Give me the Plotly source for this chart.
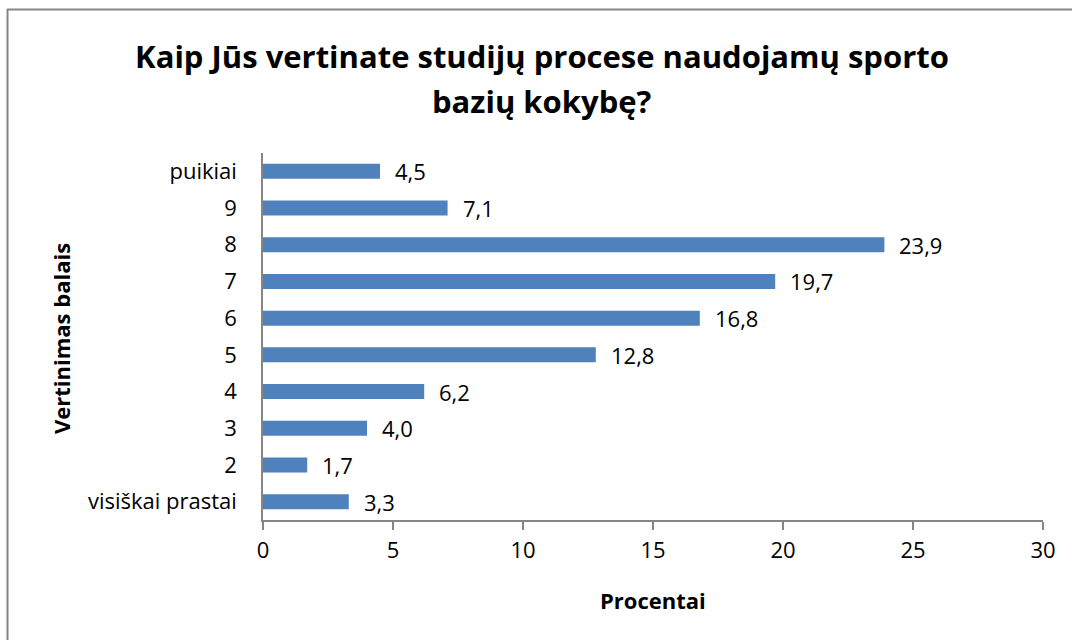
import plotly.graph_objects as go

categories = ["visiškai prastai", "2", "3", "4", "5", "6", "7", "8", "9", "puikiai"]
values = [3.3, 1.7, 4.0, 6.2, 12.8, 16.8, 19.7, 23.9, 7.1, 4.5]
x_ticks = [0, 5, 10, 15, 20, 25, 30]

title_line1 = "Kaip Jūs vertinate studijų procese naudojamų sporto"
title_line2 = "bazių kokybę?"
x_title = "Procentai"
y_title = "Vertinimas balais"

FONT = "Open Sans"
W, H = 1072, 640
ML, MR, MT, MB = 263, 29, 153, 120
TICK_SIZE = 22
TITLE_SIZE = 31

pw = W - ML - MR
ph = H - MT - MB
def px_x(x):
    return (x - ML) / pw
def px_y(y):
    return (H - MB - y) / ph

fig = go.Figure()
fig.add_trace(go.Bar(
    y=categories, x=values, orientation="h",
    marker=dict(color="#4F81BD", line=dict(width=0)),
    width=0.41, hoverinfo="x+y",
))

for i, v in enumerate(values):
    fig.add_annotation(
        x=v, y=i, xref="x", yref="y",
        text=f"{v:.1f}".replace(".", ","),
        showarrow=False, xanchor="left", yanchor="middle", xshift=13,
        font=dict(family=FONT, size=TICK_SIZE, color="#000000"),
    )

fig.update_layout(
    width=W, height=H,
    margin=dict(l=ML, r=MR, t=MT, b=MB, autoexpand=False),
    paper_bgcolor="white", plot_bgcolor="white",
    showlegend=False,
    bargap=0.59,
    title=dict(
        text=title_line1, x=542 / W, xanchor="center", y=1 - 57 / H, yanchor="middle",
        font=dict(family=FONT, size=TITLE_SIZE, color="#000000", weight="bold"),
    ),
    font=dict(family=FONT, size=TICK_SIZE, color="#000000"),
)
fig.add_annotation(
    text=title_line2, xref="paper", yref="paper",
    x=px_x(542), y=px_y(101), showarrow=False, xanchor="center", yanchor="middle",
    font=dict(family=FONT, size=TITLE_SIZE, color="#000000", weight="bold"),
)

fig.update_xaxes(
    range=[0, 30], tickvals=x_ticks, ticktext=[str(t) for t in x_ticks],
    showgrid=False, zeroline=False,
    showline=True, linecolor="#868686", linewidth=1.5,
    ticks="outside", ticklen=8, tickcolor="#868686", tickwidth=1.5,
    tickfont=dict(family=FONT, size=TICK_SIZE, color="#000000"),
    ticklabelstandoff=2,
)
fig.update_yaxes(
    categoryorder="array", categoryarray=categories,
    range=[-0.5, 9.5],
    showgrid=False, zeroline=False,
    showline=True, linecolor="#868686", linewidth=1.5,
    ticks="", tickfont=dict(family=FONT, size=TICK_SIZE, color="#000000"),
    ticklabelstandoff=20,
)

fig.add_annotation(
    text=x_title, xref="paper", yref="paper",
    x=px_x(653), y=px_y(600),
    showarrow=False, xanchor="center", yanchor="middle",
    font=dict(family=FONT, size=22, color="#000000", weight="bold"),
)
fig.add_annotation(
    text=y_title, xref="paper", yref="paper",
    x=px_x(61), y=px_y(338),
    textangle=-90,
    showarrow=False, xanchor="center", yanchor="middle",
    font=dict(family=FONT, size=22, color="#000000", weight="bold"),
)

fig.add_shape(type="line", xref="paper", yref="paper",
              x0=px_x(7), x1=px_x(1072), y0=px_y(9.5), y1=px_y(9.5),
              line=dict(color="#868686", width=2))
fig.add_shape(type="line", xref="paper", yref="paper",
              x0=px_x(7.5), x1=px_x(7.5), y0=px_y(9), y1=px_y(640),
              line=dict(color="#868686", width=2))

fig.write_html("out.html", config={"displayModeBar": False},
               post_script="document.body.style.margin='0';document.body.style.padding='0';")
